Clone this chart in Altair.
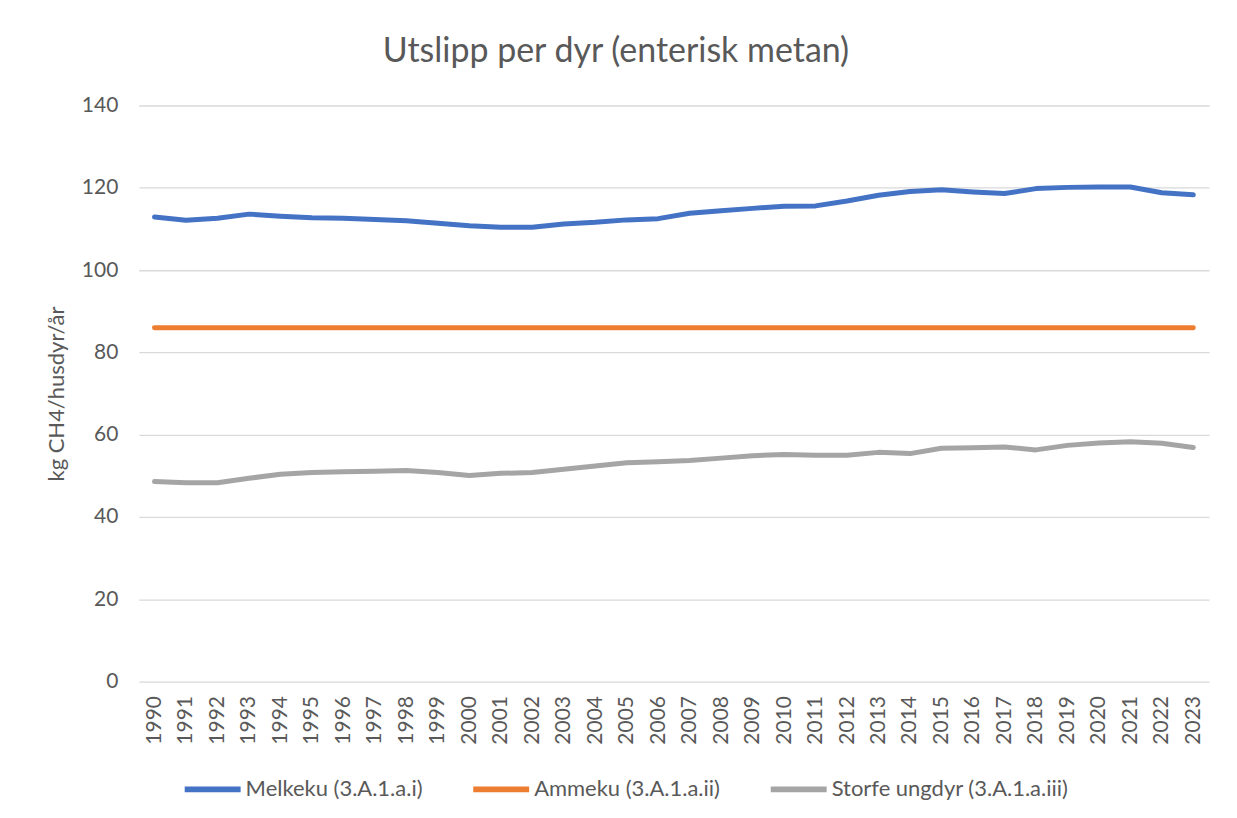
import altair as alt
import pandas as pd

years = [str(y) for y in range(1990, 2024)]

melkeku = [112.9, 112.1, 112.6, 113.6, 113.1, 112.7, 112.6, 112.3, 112.0, 111.4, 110.8, 110.4, 110.4, 111.2, 111.6, 112.2, 112.5,
           113.8, 114.4, 115.0, 115.5, 115.6, 116.8, 118.2, 119.1, 119.5, 119.0, 118.6, 119.8, 120.1, 120.2, 120.2, 118.8, 118.3]
ammeku = [86.0] * 34
storfe = [48.6, 48.3, 48.3, 49.4, 50.4, 50.8, 51.0, 51.1, 51.3, 50.8, 50.1, 50.6, 50.8, 51.6, 52.4, 53.2, 53.4,
          53.7, 54.3, 54.9, 55.2, 55.0, 55.0, 55.7, 55.4, 56.7, 56.8, 57.0, 56.3, 57.4, 58.0, 58.3, 57.9, 56.9]

series_names = ["Melkeku (3.A.1.a.i)", "Ammeku (3.A.1.a.ii)", "Storfe ungdyr (3.A.1.a.iii)"]
series_colors = ["#4472C4", "#ED7D31", "#A5A5A5"]

rows = []
for name, vals in zip(series_names, [melkeku, ammeku, storfe]):
    for y, v in zip(years, vals):
        rows.append({"År": y, "Verdi": v, "Serie": name})
df = pd.DataFrame(rows)

FONT = "Lato"
TXT = "#595959"

chart = alt.Chart(df).mark_line(strokeWidth=5, strokeCap="round", strokeJoin="round").encode(
    x=alt.X("År:O", sort=years,
            scale=alt.Scale(type="point", padding=0.5),
            axis=alt.Axis(title=None, labelAngle=270, labelPadding=14, ticks=False, domain=False,
                          labelFontSize=21, labelColor=TXT, labelFont=FONT, grid=False)),
    y=alt.Y("Verdi:Q", scale=alt.Scale(domain=[0, 140], nice=False),
            axis=alt.Axis(title="kg CH4/husdyr/år", values=list(range(0, 141, 20)), ticks=False, domain=False,
                          labelPadding=21, labelFontSize=21, labelColor=TXT, labelFont=FONT,
                          titleFontSize=22, titleColor=TXT, titleFont=FONT, titleFontWeight="normal",
                          titlePadding=13, gridColor="#D9D9D9", gridWidth=1.3)),
    color=alt.Color("Serie:N", sort=series_names,
                    scale=alt.Scale(domain=series_names, range=series_colors),
                    legend=alt.Legend(title=None, orient="none", direction="horizontal",
                                      legendX=43, legendY=654,
                                      symbolType="stroke", symbolSize=3136, symbolStrokeWidth=6,
                                      labelFontSize=22, labelColor=TXT, labelFont=FONT, labelLimit=0,
                                      labelOffset=2, columnPadding=38)),
).properties(
    width=1072, height=577,
    title=alt.TitleParams("Utslipp per dyr (enterisk metan)", anchor="middle", frame="group",
                          fontSize=34, font=FONT, color=TXT, fontWeight="normal", dx=-58, offset=26),
    autosize=alt.AutoSizeParams(type="none"),
    padding={"left": 131, "top": 97, "right": 20, "bottom": 128},
    background="white",
).configure_view(strokeWidth=0)

chart.save("out.html", embed_options={"renderer": "svg", "actions": False})
